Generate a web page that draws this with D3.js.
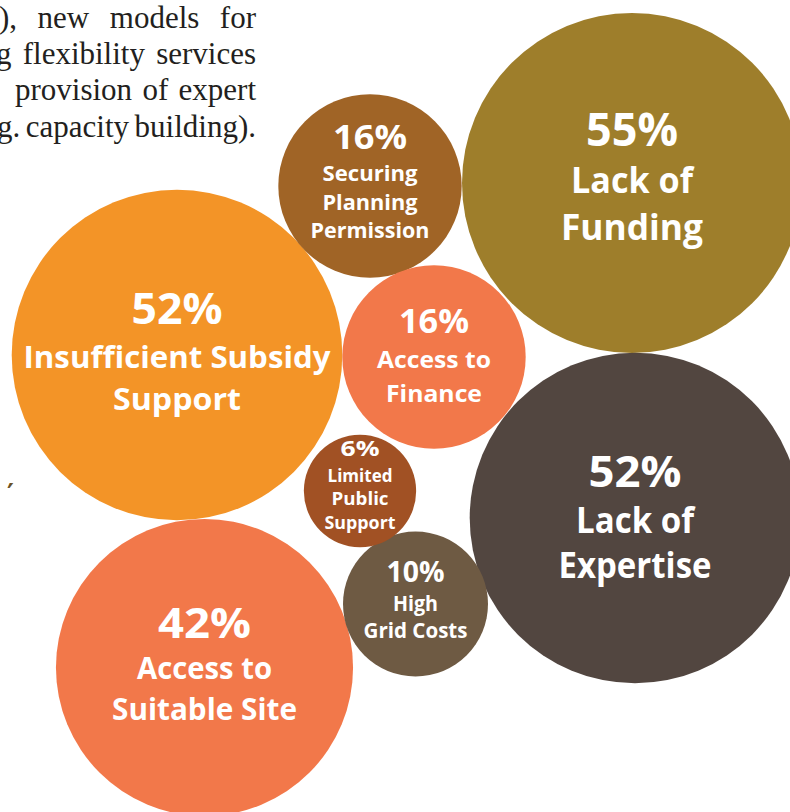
<!DOCTYPE html>
<html>
<head>
<meta charset="utf-8">
<script src="https://cdn.jsdelivr.net/npm/d3@7"></script>
<style>
  html, body { margin: 0; padding: 0; background: #ffffff; }
  svg { display: block; }
</style>
</head>
<body>
<svg id="chart" width="790" height="812"></svg>
<script>
// ---- data ----
const categories = [
  "Lack of Funding",
  "Insufficient Subsidy Support",
  "Lack of Expertise",
  "Access to Suitable Site",
  "Securing Planning Permission",
  "Access to Finance",
  "High Grid Costs",
  "Limited Public Support"
];
const values = [55, 52, 52, 42, 16, 16, 10, 6];
const labelLines = [
  ["Lack of", "Funding"],
  ["Insufficient Subsidy", "Support"],
  ["Lack of", "Expertise"],
  ["Access to", "Suitable Site"],
  ["Securing", "Planning", "Permission"],
  ["Access to", "Finance"],
  ["High", "Grid Costs"],
  ["Limited", "Public", "Support"]
];
const bodyLines = [
  "), new models for",
  "g flexibility services",
  "provision of expert",
  "g. capacity building)."
];

// ---- layout / style (not data) ----
const colors = ["#9e7e2b", "#f39427", "#524640", "#f2784a", "#a06426", "#f2784a", "#6e5a43", "#a15124"];
const centers = [[632,183],[177,355],[635,518],[204.5,667.5],[370,186],[434,357],[415.5,604],[360,491]];
const pctSize = [46, 43, 43, 42, 34, 34, 28, 21];
const lblSize = [36, 30, 36, 31, 22, 23, 21, 18];
const offsets = [
  [-37, 10, 57],
  [-31, 13, 55],
  [-31, 15, 60],
  [-29.5, 11.5, 52.5],
  [-37, -5, 24, 52],
  [-24, 11, 45],
  [-22, 7, 34],
  [-35, -9, 14, 38]
];
const widths = [
  [92, 122, 142],
  [91, 307, 128],
  [93, 118, 153],
  [93, 135, 185],
  [74, 95, 95, 119],
  [70, 114, 96],
  [58, 45, 104],
  [39, 65, 57, 71]
];

const svg = d3.select("#chart");
const r = d3.scaleSqrt().domain([0, 55]).range([0, 170]);

// body text (justified fragment) - justify with word spacing
const bodyX = [-1, -4, 15, -3];
const bodyY = [28, 64, 100, 137];
const bodyRight = 256;
svg.append("g").selectAll("text").data(bodyLines).join("text")
  .attr("x", (d, i) => bodyX[i])
  .attr("y", (d, i) => bodyY[i])
  .attr("font-family", "'Liberation Serif', 'DejaVu Serif', serif")
  .attr("font-size", 31)
  .attr("fill", "#231f20")
  .text(d => d)
  .each(function(d, i) {
    const natural = this.getComputedTextLength();
    const spaces = (d.match(/ /g) || []).length;
    const extra = (bodyRight - bodyX[i]) - natural;
    if (spaces > 0) d3.select(this).attr("word-spacing", extra / spaces);
  });

// stray mark
svg.append("text").attr("x", 7).attr("y", 502)
  .attr("font-family", "'DejaVu Serif', serif").attr("font-size", 26)
  .attr("font-weight", 700)
  .attr("fill", "#6b5226").text("\u2032");

const nodes = values.map((v, i) => ({v, i, cat: categories[i], lines: labelLines[i]}));

const g = svg.append("g").selectAll("g").data(nodes).join("g")
  .attr("transform", d => `translate(${centers[d.i][0]},${centers[d.i][1]})`);

g.append("circle")
  .attr("r", d => r(d.v))
  .attr("fill", d => colors[d.i]);

g.each(function(d) {
  const sel = d3.select(this);
  const all = [d.v + "%"].concat(d.lines);
  all.forEach((t, k) => {
    sel.append("text")
      .attr("x", 0)
      .attr("y", offsets[d.i][k])
      .attr("text-anchor", "middle")
      .attr("font-family", "'Open Sans', 'Noto Sans', sans-serif")
      .attr("font-weight", 700)
      .attr("font-size", k === 0 ? pctSize[d.i] : lblSize[d.i])
      .attr("textLength", widths[d.i][k])
      .attr("lengthAdjust", "spacingAndGlyphs")
      .attr("fill", "#ffffff")
      .text(t);
  });
});
</script>
</body>
</html>
